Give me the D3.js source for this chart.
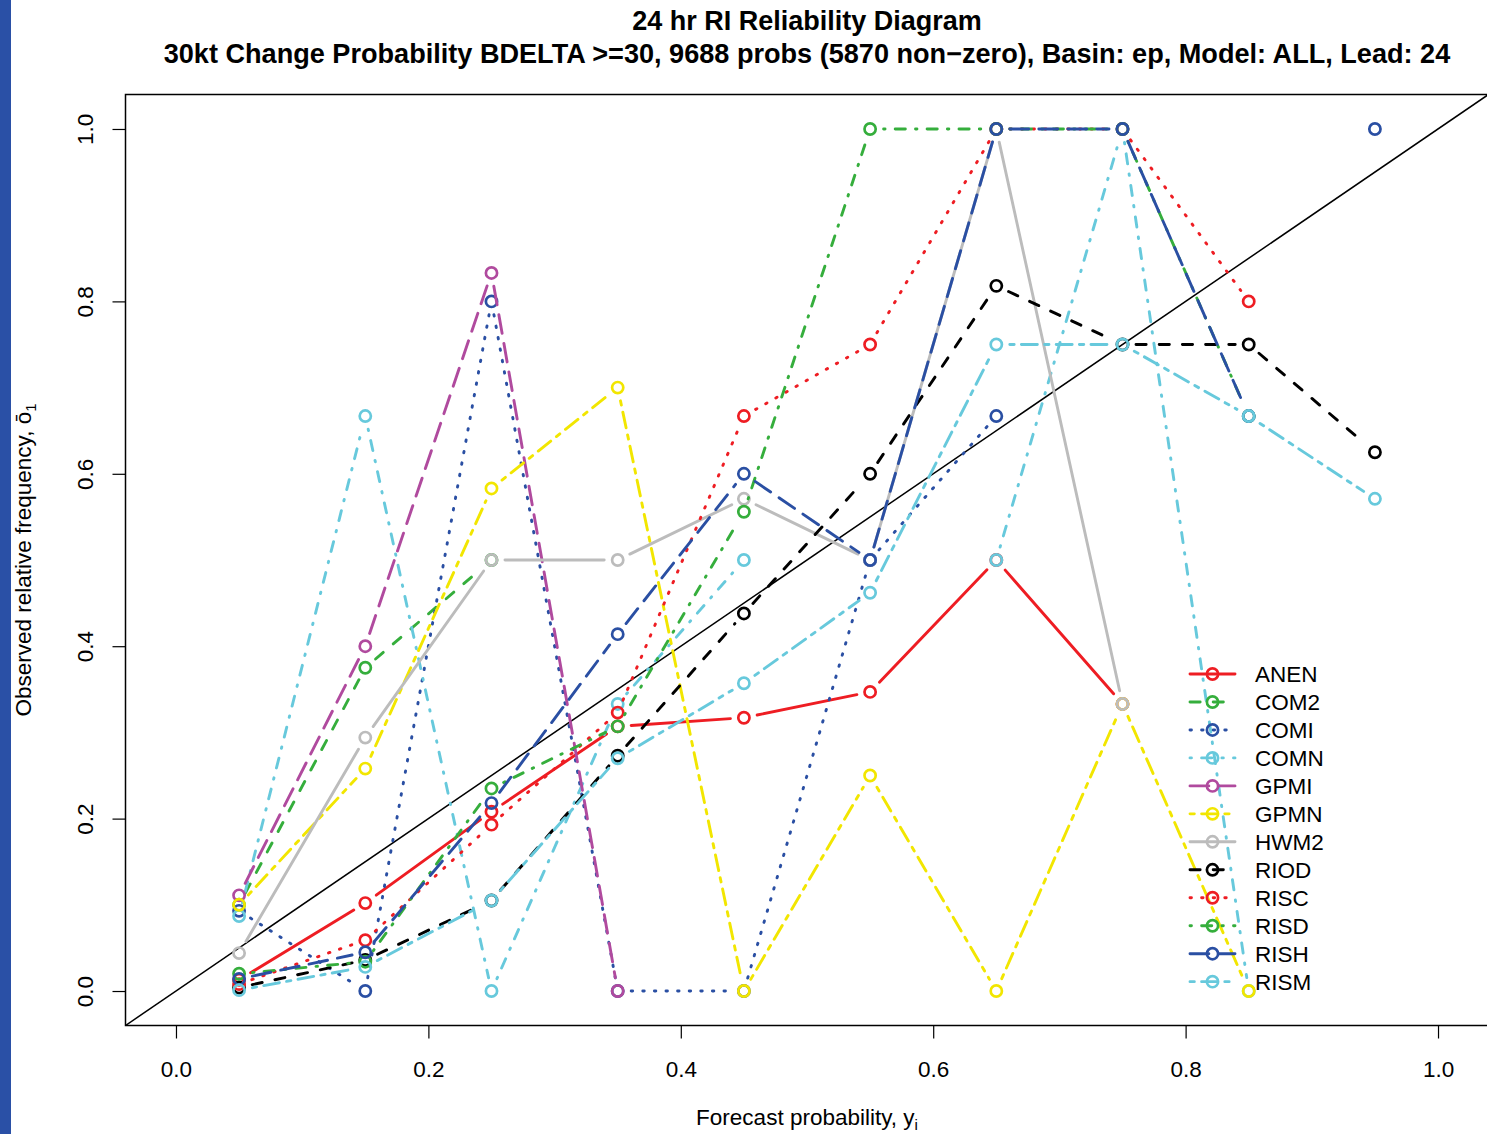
<!DOCTYPE html>
<html>
<head>
<meta charset="utf-8">
<script src="https://cdn.jsdelivr.net/npm/d3@7"></script>
<style>
  body { margin: 0; background: #fff; }
  svg { display: block; font-family: "Liberation Sans", Arial, Helvetica, sans-serif; }
</style>
</head>
<body>
<svg id="chart" width="1487" height="1134"></svg>
<script>
// forecast probability bins (x) and models, in legend order
var probBins = [0.05, 0.15, 0.25, 0.35, 0.45, 0.55, 0.65, 0.75, 0.85, 0.95];
var models = ["ANEN", "COM2", "COMI", "COMN", "GPMI", "GPMN", "HWM2", "RIOD", "RISC", "RISD", "RISH", "RISM"];

// observed relative frequency per bin (null = no forecasts in bin)
var anen = [0.013, 0.102, 0.208, 0.307, 0.317, 0.347, 0.5, 0.333, null, null];
var com2 = [0.1, 0.375, 0.5, null, null, null, null, null, null, null];
var comi = [0.093, 0.0, 0.8, 0.0, 0.0, 0.5, 0.667, null, null, 1.0];
var comn = [0.087, 0.667, 0.0, 0.333, 0.5, null, 0.5, 1.0, 0.0, null];
var gpmi = [0.111, 0.4, 0.833, 0.0, null, null, null, null, null, null];
var gpmn = [0.1, 0.258, 0.583, 0.7, 0.0, 0.25, 0.0, 0.333, 0.0, null];
var hwm2 = [0.044, 0.294, 0.5, 0.5, 0.571, 0.5, 1.0, 0.333, null, null];
var riod = [0.004, 0.036, 0.105, 0.273, 0.438, 0.6, 0.818, 0.75, 0.75, 0.625];
var risc = [0.008, 0.059, 0.193, 0.323, 0.667, 0.75, 1.0, 1.0, 0.8, null];
var risd = [0.02, 0.034, 0.235, 0.307, 0.556, 1.0, 1.0, 1.0, 0.667, null];
var rish = [0.014, 0.045, 0.218, 0.414, 0.6, 0.5, 1.0, 1.0, 0.667, null];
var rism = [0.001, 0.028, 0.105, 0.27, 0.357, 0.462, 0.75, 0.75, 0.667, 0.571];

var seriesValues = [anen, com2, comi, comn, gpmi, gpmn, hwm2, riod, risc, risd, rish, rism];
var xTicks = [0, 0.2, 0.4, 0.6, 0.8, 1.0];
var yTicks = [0, 0.2, 0.4, 0.6, 0.8, 1.0];

// R-ish palette (8 colours) and line types (6) recycled
var palette = ["#ee1d23", "#35ae3c", "#2a4fa3", "#67c9dc", "#b04a9e", "#f2e600", "#bcbcbc", "#000000"];
var ltys = ["solid", "dashed", "dotted", "dotdash", "longdash", "twodash"];
var ltyUnits = {
    solid: null,
    dashed: [4, 4],
    dotted: [1, 3],
    dotdash: [1, 3, 4, 3],
    longdash: [7, 3],
    twodash: [2, 2, 6, 2]
};

var lineW = 2.9;
var dashU = 2.9;
var pointR = 5.6;
var pointW = 2.7;
var gapB = 13.5; // type="b" gap round points

function dashArray(lty) {
    var p = ltyUnits[lty];
    if (!p) return null;
    return p.map(function (v, i) {
        return i % 2 === 0 ? Math.max(0.5, v * dashU - lineW / 2) : v * dashU + lineW / 2;
    }).join(",");
}

var svg = d3.select("#chart");
var W = 1487, H = 1134;

var xs = d3.scaleLinear().domain([-0.04, 1.04]).range([125.5, 1488.5]);
var ys = d3.scaleLinear().domain([-0.04, 1.04]).range([1025.5, 94.5]);

// left blue strip
svg.append("rect").attr("x", 0).attr("y", 0).attr("width", 11).attr("height", H).attr("fill", "#2a50a6");

svg.append("defs").append("clipPath").attr("id", "plotClip")
    .append("rect")
    .attr("x", xs(-0.04)).attr("y", ys(1.04))
    .attr("width", xs(1.04) - xs(-0.04)).attr("height", ys(-0.04) - ys(1.04));

var plot = svg.append("g").attr("clip-path", "url(#plotClip)");

// perfect reliability diagonal
plot.append("line")
    .attr("x1", xs(-0.04)).attr("y1", ys(-0.04))
    .attr("x2", xs(1.04)).attr("y2", ys(1.04))
    .attr("stroke", "#000").attr("stroke-width", 1.5);

// series, type = "b"
seriesValues.forEach(function (vals, k) {
    var col = palette[k % palette.length];
    var lty = ltys[k % ltys.length];
    var g = plot.append("g").attr("class", "series-" + models[k]);

    var segs = [];
    for (var i = 0; i < vals.length - 1; i++) {
        if (vals[i] === null || vals[i + 1] === null) continue;
        segs.push([probBins[i], vals[i], probBins[i + 1], vals[i + 1]]);
    }

    g.selectAll("line").data(segs).enter().append("line")
        .each(function (d) {
            var x1 = xs(d[0]), y1 = ys(d[1]), x2 = xs(d[2]), y2 = ys(d[3]);
            var len = Math.hypot(x2 - x1, y2 - y1);
            if (len <= 2 * gapB) { d3.select(this).remove(); return; }
            var f = gapB / len;
            d3.select(this)
                .attr("x1", x1 + (x2 - x1) * f).attr("y1", y1 + (y2 - y1) * f)
                .attr("x2", x2 - (x2 - x1) * f).attr("y2", y2 - (y2 - y1) * f);
        })
        .attr("stroke", col)
        .attr("stroke-width", lineW)
        .attr("stroke-linecap", "round")
        .attr("stroke-dasharray", dashArray(lty));

    var pts = probBins.map(function (p, i) { return [p, vals[i]]; })
        .filter(function (d) { return d[1] !== null; });

    g.selectAll("circle").data(pts).enter().append("circle")
        .attr("cx", function (d) { return xs(d[0]); })
        .attr("cy", function (d) { return ys(d[1]); })
        .attr("r", pointR)
        .attr("fill", "none")
        .attr("stroke", col)
        .attr("stroke-width", pointW);
});

// plot box
svg.append("rect")
    .attr("x", xs(-0.04)).attr("y", ys(1.04))
    .attr("width", xs(1.04) - xs(-0.04)).attr("height", ys(-0.04) - ys(1.04))
    .attr("fill", "none").attr("stroke", "#000").attr("stroke-width", 1.5);

// axes
var xAxis = svg.append("g")
    .attr("transform", "translate(0," + ys(-0.04) + ")")
    .call(d3.axisBottom(xs).tickValues(xTicks).tickFormat(d3.format(".1f")).tickSize(13).tickSizeOuter(0));
xAxis.select(".domain").remove();
xAxis.selectAll(".tick line").attr("stroke", "#000").attr("stroke-width", 1.2);
xAxis.selectAll(".tick text")
    .attr("y", 51).attr("dy", 0)
    .attr("font-size", 22.5).attr("fill", "#000")
    .attr("font-family", "Liberation Sans, Arial, sans-serif");

var yAxis = svg.append("g")
    .attr("transform", "translate(" + xs(-0.04) + ",0)")
    .call(d3.axisLeft(ys).tickValues(yTicks).tickFormat(d3.format(".1f")).tickSize(13).tickSizeOuter(0));
yAxis.select(".domain").remove();
yAxis.selectAll(".tick line").attr("stroke", "#000").attr("stroke-width", 1.2);
yAxis.selectAll(".tick text")
    .attr("x", 0).attr("dy", 0)
    .attr("transform", "translate(-33,0) rotate(-90)")
    .attr("text-anchor", "middle")
    .attr("font-size", 22.5).attr("fill", "#000")
    .attr("font-family", "Liberation Sans, Arial, sans-serif");

// titles
svg.append("text")
    .attr("x", (xs(-0.04) + xs(1.04)) / 2).attr("y", 30)
    .attr("text-anchor", "middle").attr("font-size", 27).attr("font-weight", "bold")
    .text("24 hr RI Reliability Diagram");
svg.append("text")
    .attr("x", (xs(-0.04) + xs(1.04)) / 2).attr("y", 63)
    .attr("text-anchor", "middle").attr("font-size", 27.1).attr("font-weight", "bold")
    .text("30kt Change Probability BDELTA >=30, 9688 probs (5870 non\u2212zero), Basin: ep, Model: ALL, Lead: 24");

// axis titles
var xl = svg.append("text")
    .attr("x", (xs(-0.04) + xs(1.04)) / 2).attr("y", 1125)
    .attr("text-anchor", "middle").attr("font-size", 22.5);
xl.append("tspan").text("Forecast probability, y");
xl.append("tspan").attr("font-size", 15).attr("dy", 5).text("i");

var yl = svg.append("text")
    .attr("transform", "translate(31," + ((ys(-0.04) + ys(1.04)) / 2) + ") rotate(-90)")
    .attr("text-anchor", "middle").attr("font-size", 22.5);
yl.append("tspan").text("Observed relative frequency, \u014d");
yl.append("tspan").attr("font-size", 15).attr("dy", 5).text("1");

// legend
var legX1 = 1190, legX2 = 1235, legTextX = 1255, legY0 = 674, legDy = 27.97;
var leg = svg.append("g").attr("class", "legend");
models.forEach(function (m, k) {
    var col = palette[k % palette.length];
    var lty = ltys[k % ltys.length];
    var yy = legY0 + k * legDy;
    leg.append("line")
        .attr("x1", legX1).attr("x2", legX2).attr("y1", yy).attr("y2", yy)
        .attr("stroke", col).attr("stroke-width", lineW)
        .attr("stroke-linecap", "round")
        .attr("stroke-dasharray", dashArray(lty));
    leg.append("circle")
        .attr("cx", (legX1 + legX2) / 2).attr("cy", yy).attr("r", pointR)
        .attr("fill", "none").attr("stroke", col).attr("stroke-width", pointW);
    leg.append("text")
        .attr("x", legTextX).attr("y", yy + 8)
        .attr("font-size", 22.5).attr("fill", "#000")
        .text(m);
});
</script>
</body>
</html>
